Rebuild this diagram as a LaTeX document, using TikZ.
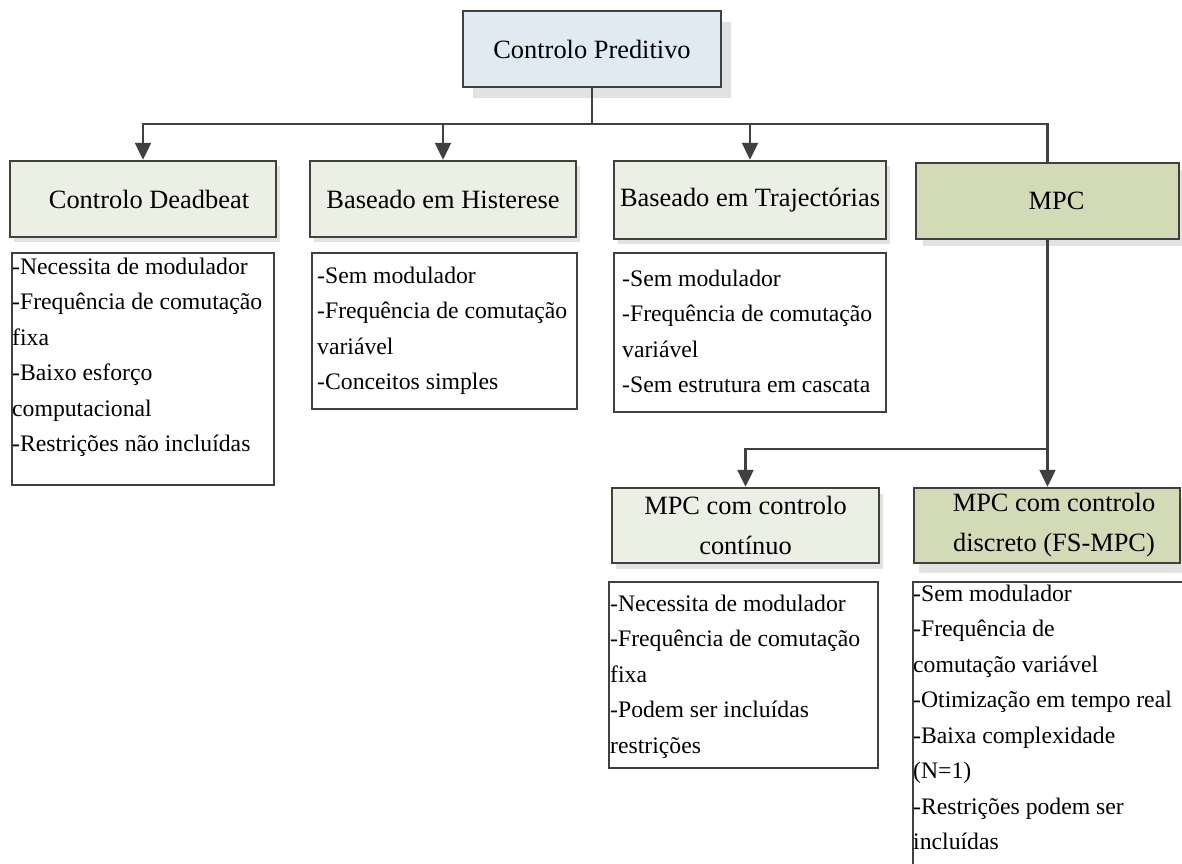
\documentclass[tikz,border=0pt]{standalone}
\usepackage{fontspec}
\setmainfont{Liberation Serif}
\usetikzlibrary{arrows.meta,shadows}

\definecolor{edgecol}{HTML}{404040}
\definecolor{topfill}{HTML}{E0EAF3}
\definecolor{palegreen}{HTML}{ECEFE4}
\definecolor{olivefill}{HTML}{D3DAB6}
\definecolor{shadowcol}{HTML}{E2E2E2}

% left-aligned list whose baseline is the first line's baseline
\newcommand{\itemlines}[1]{\vtop{\baselineskip=35.5pt\lineskiplimit=-100pt\halign{##\hfil\cr#1\crcr}}}

\tikzset{
  titlebox/.style={draw=edgecol, line width=2.4pt, rectangle, inner sep=0pt,
    align=center, font=\fontsize{26.4}{40}\selectfont},
  boxshadow/.style 2 args={drop shadow={shadow xshift=#1, shadow yshift=#2,
    fill=shadowcol, draw=none, opacity=1}},
  listbox/.style={draw=edgecol, line width=2pt, rectangle, fill=white, inner sep=0pt},
  listtext/.style={anchor=base west, inner sep=0pt, font=\fontsize{23.7}{35.5}\selectfont},
  wire/.style={draw=edgecol, line width=2.2pt},
  tip/.style={-{Triangle[length=17pt,width=16pt]}}
}

\begin{document}
\begin{tikzpicture}[x=1pt, y=-1pt]
\useasboundingbox (0,0) rectangle (1182,863);
\clip (0,0) rectangle (1182,863);

% root
\node[titlebox, fill=topfill, boxshadow={10pt}{-11pt},
  minimum width=258pt, minimum height=76pt] (root) at (592,49) {Controlo Preditivo};

% first level
\node[titlebox, fill=palegreen, boxshadow={4pt}{-5pt},
  minimum width=266pt, minimum height=76pt] (deadbeat) at (143,199) {\hspace*{12pt}Controlo Deadbeat};
\node[titlebox, fill=palegreen, boxshadow={4pt}{-5pt},
  minimum width=266pt, minimum height=76pt] (hyst) at (443,199) {Baseado em Histerese};
\node[titlebox, fill=palegreen, boxshadow={4pt}{-5pt},
  minimum width=272pt, minimum height=78pt] (traj) at (750,200) {Baseado em Trajectórias};
\node[titlebox, fill=olivefill, boxshadow={7pt}{-7pt},
  minimum width=263pt, minimum height=76pt] (mpc) at (1047.5,201) {\hspace*{18pt}MPC};

% second level
\node[titlebox, fill=palegreen, boxshadow={4pt}{-6pt},
  minimum width=267pt, minimum height=75pt] (cont) at (745.5,525.5) {MPC com controlo\\contínuo};
\node[titlebox, fill=olivefill, boxshadow={5pt}{-10pt},
  minimum width=266pt, minimum height=75pt] (fsmpc) at (1047,525.5)
  {\hspace*{14pt}MPC com controlo\\\hspace*{14pt}discreto (FS-MPC)};

% feature lists
\node[listbox, minimum width=262pt, minimum height=232pt] (l1) at (143,369) {};
\node[listtext, xshift=1pt, yshift=-22pt] (t1) at (l1.north west) {\itemlines{%
-Necessita de modulador\cr
-Frequência de comutação\cr
fixa\cr
-Baixo esforço\cr
computacional\cr
-Restrições não incluídas}};

\node[listbox, minimum width=265pt, minimum height=156pt] (l2) at (444.5,331) {};
\node[listtext, xshift=6pt, yshift=-31pt] (t2) at (l2.north west) {\itemlines{%
-Sem modulador\cr
-Frequência de comutação\cr
variável\cr
-Conceitos simples}};

\node[listbox, minimum width=272pt, minimum height=159pt] (l3) at (750,332.5) {};
\node[listtext, xshift=9pt, yshift=-34pt] (t3) at (l3.north west) {\itemlines{%
-Sem modulador\cr
-Frequência de comutação\cr
variável\cr
-Sem estrutura em cascata}};

\node[listbox, minimum width=269pt, minimum height=186pt] (l4) at (743.5,675) {};
\node[listtext, xshift=2pt, yshift=-30pt] (t4) at (l4.north west) {\itemlines{%
-Necessita de modulador\cr
-Frequência de comutação\cr
fixa\cr
-Podem ser incluídas\cr
restrições}};

\node[listbox, minimum width=287pt, minimum height=298pt] (l5) at (1056.5,731) {};
\node[listtext, xshift=1pt, yshift=-20pt] (t5) at (l5.north west) {\itemlines{%
-Sem modulador\cr
-Frequência de\cr
comutação variável\cr
-Otimização em tempo real\cr
-Baixa complexidade\cr
(N=1)\cr
-Restrições podem ser\cr
incluídas}};

% connectors
\coordinate (hub) at (root.south |- 0,124);
\draw[wire] (root.south) -- (hub);
\draw[wire, tip] (hub) -| (deadbeat.north);
\draw[wire, tip] (hub) -| (hyst.north);
\draw[wire, tip] (hub) -| (traj.north);
\draw[wire] (hub) -| (mpc.north);

\coordinate (split) at (mpc.south |- 0,449);
\draw[wire, tip] (mpc.south) -- (mpc.south |- fsmpc.north);
\draw[wire, tip] (split) -| (cont.north);
\end{tikzpicture}
\end{document}
